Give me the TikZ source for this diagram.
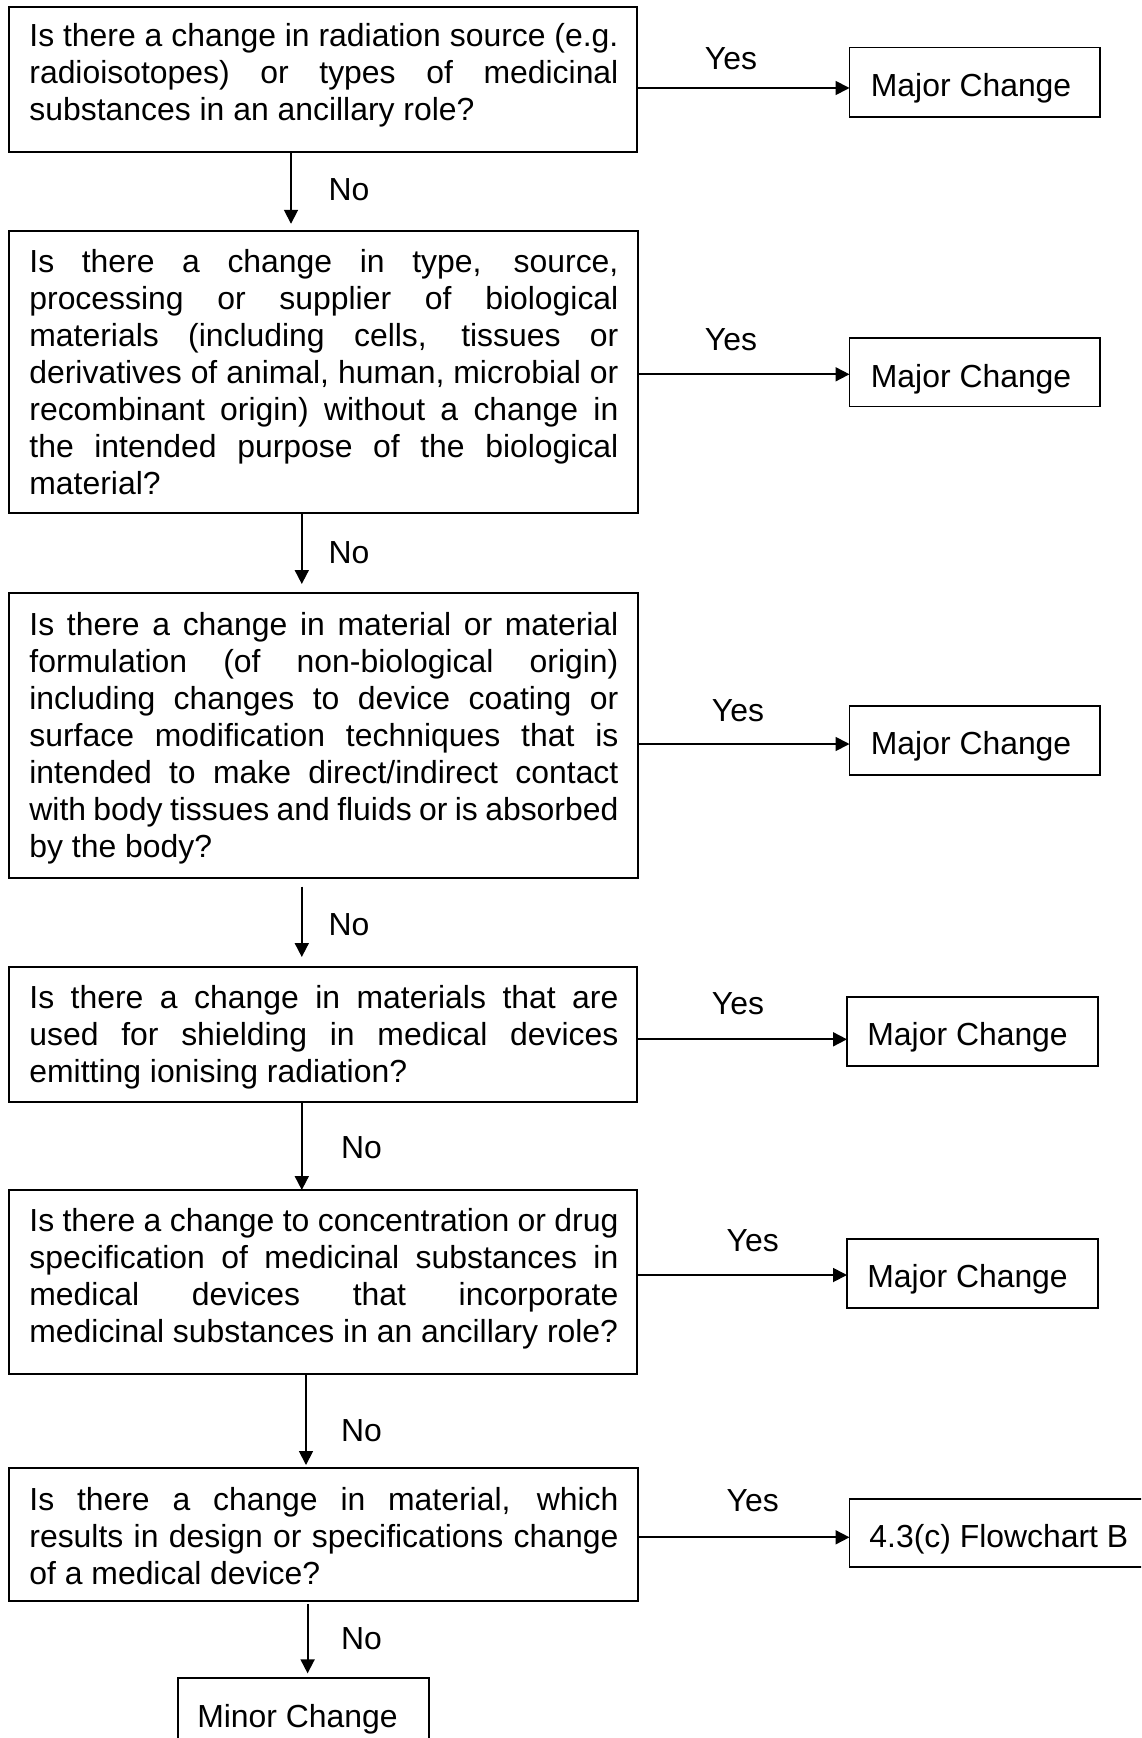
\documentclass[tikz,border=0pt]{standalone}
\usepackage{fontspec}
\setmainfont{Liberation Sans}
\usetikzlibrary{arrows.meta}
\newcommand\qfont{\fontsize{15.95pt}{18.5pt}\selectfont}
\newcommand\qpar[1]{\parbox[t]{294.5pt}{\hyphenpenalty=10000 \exhyphenpenalty=10000 \pretolerance=-1 \tolerance=10000 \hbadness=10000 \hfuzz=20pt \strut #1}}
\begin{document}
\begin{tikzpicture}[x=0.5pt,y=-0.5pt,
  box/.style={draw, line width=0.9pt, inner sep=0, outer sep=0},
  qtext/.style={inner sep=0, anchor=base west, font=\qfont},
  rtext/.style={inner sep=0, anchor=base west, font=\qfont},
  lbl/.style={inner sep=0, anchor=base, font=\qfont},
  arr/.style={line width=0.9pt, -{Triangle[length=7pt,width=7pt]}}]
\useasboundingbox (0,0) rectangle (1141,1738);
\clip (0,0) rectangle (1141,1738);
\fill[white] (0,0) rectangle (1141,1738);

% question boxes
\node[box, minimum width=314pt, minimum height=72.5pt] (q1) at (323,79.5) {};
\node[box, minimum width=314.5pt, minimum height=141pt] (q2) at (323.5,372) {};
\node[box, minimum width=314.5pt, minimum height=142.5pt] (q3) at (323.5,735.5) {};
\node[box, minimum width=314pt, minimum height=67.5pt] (q4) at (323,1034.5) {};
\node[box, minimum width=314pt, minimum height=92pt] (q5) at (323,1282) {};
\node[box, minimum width=314.5pt, minimum height=66.5pt] (q6) at (323.5,1534.5) {};

% result boxes
\node[box, minimum width=125.25pt, minimum height=34.75pt] (m1) at (974.75,82.25) {};
\node[box, minimum width=125.25pt, minimum height=34.2pt] (m2) at (974.75,372.2) {};
\node[box, minimum width=125.25pt, minimum height=34.5pt] (m3) at (974.75,740.5) {};
\node[box, minimum width=125.5pt, minimum height=34.35pt] (m4) at (972.5,1031.7) {};
\node[box, minimum width=125.5pt, minimum height=34.35pt] (m5) at (972.5,1273.3) {};
\node[box, minimum width=155.25pt, minimum height=33.85pt] (m6) at (1004.75,1532.9) {};
\node[box, minimum width=125.5pt, minimum height=41.15pt] (mn) at (303.5,1718.9) {};

% question texts
\node[qtext] (t1) at (29,47) {\qpar{Is there a change in radiation source (e.g.\linebreak
radioisotopes) or types of medicinal\linebreak
substances in an ancillary role?}};
\node[qtext] (t2) at (29,272.5) {\qpar{Is there a change in type, source,\linebreak
processing or supplier of biological\linebreak
materials (including cells, tissues or\linebreak
derivatives of animal, human, microbial or\linebreak
recombinant origin) without a change in\linebreak
the intended purpose of the biological\linebreak
material?}};
\node[qtext] (t3) at (29,635) {\qpar{Is there a change in material or material\linebreak
formulation (of non-biological origin)\linebreak
including changes to device coating or\linebreak
surface modification techniques that is\linebreak
intended to make direct/indirect contact\linebreak
with body tissues and fluids or is absorbed\linebreak
by the body?}};
\node[qtext] (t4) at (29,1008.3) {\qpar{Is there a change in materials that are\linebreak
used for shielding in medical devices\linebreak
emitting ionising radiation?}};
\node[qtext] (t5) at (29,1231.7) {\qpar{Is there a change to concentration or drug\linebreak
specification of medicinal substances in\linebreak
medical devices that incorporate\linebreak
medicinal substances in an ancillary role?}};
\node[qtext] (t6) at (29,1510) {\qpar{Is there a change in material, which\linebreak
results in design or specifications change\linebreak
of a medical device?}};

% result texts
\node[rtext] (r1) at (870.5,96.7) {Major Change};
\node[rtext] (r2) at (870.5,387.5) {Major Change};
\node[rtext] (r3) at (870.5,754.6) {Major Change};
\node[rtext] (r4) at (867,1045.5) {Major Change};
\node[rtext] (r5) at (867,1287) {Major Change};
\node[rtext] (r6) at (869,1547.5) {4.3(c) Flowchart B};
\node[lbl] (rn) at (297.5,1727) {Minor Change};

% Yes arrows
\coordinate (y1) at (0,88);
\coordinate (y2) at (0,374.3);
\coordinate (y3) at (0,744);
\coordinate (y4) at (0,1039.3);
\coordinate (y5) at (0,1275);
\coordinate (y6) at (0,1537.3);
\draw[arr] (q1.east |- y1) -- (m1.west |- y1);
\draw[arr] (q2.east |- y2) -- (m2.west |- y2);
\draw[arr] (q3.east |- y3) -- (m3.west |- y3);
\draw[arr] (q4.east |- y4) -- (m4.west |- y4);
\draw[arr] (q5.east |- y5) -- (m5.west |- y5);
\draw[arr] (q6.east |- y6) -- (m6.west |- y6);
\node[lbl] (yes1) at (731,69.3) {Yes};
\node[lbl] (yes2) at (731,350.6) {Yes};
\node[lbl] (yes3) at (738,721.7) {Yes};
\node[lbl] (yes4) at (738,1014) {Yes};
\node[lbl] (yes5) at (752.7,1251.7) {Yes};
\node[lbl] (yes6) at (752.7,1511.7) {Yes};

% No arrows
\coordinate (x1) at (291,0);
\coordinate (x2) at (301.8,0);
\coordinate (x3) at (301.8,0);
\coordinate (x4) at (301.8,0);
\coordinate (x5) at (306,0);
\coordinate (x6) at (307.6,0);
\draw[arr, shorten >=3.6pt] (q1.south -| x1) -- (q2.north -| x1);
\draw[arr, shorten >=4.5pt] (q2.south -| x2) -- (q3.north -| x2);
\draw[arr, shorten <=4.3pt, shorten >=5pt] (q3.south -| x3) -- (q4.north -| x3);
\draw[arr] (q4.south -| x4) -- (q5.north -| x4);
\draw[arr, shorten >=1.5pt] (q5.south -| x5) -- (q6.north -| x5);
\draw[arr, shorten <=1.5pt, shorten >=2.2pt] (q6.south -| x6) -- (mn.north -| x6);
\node[lbl] (no1) at (349,201) {No};
\node[lbl] (no2) at (349,563) {No};
\node[lbl] (no3) at (349,935) {No};
\node[lbl] (no4) at (361.5,1158.3) {No};
\node[lbl] (no5) at (361.5,1441.7) {No};
\node[lbl] (no6) at (361.5,1649) {No};
\end{tikzpicture}
\end{document}
